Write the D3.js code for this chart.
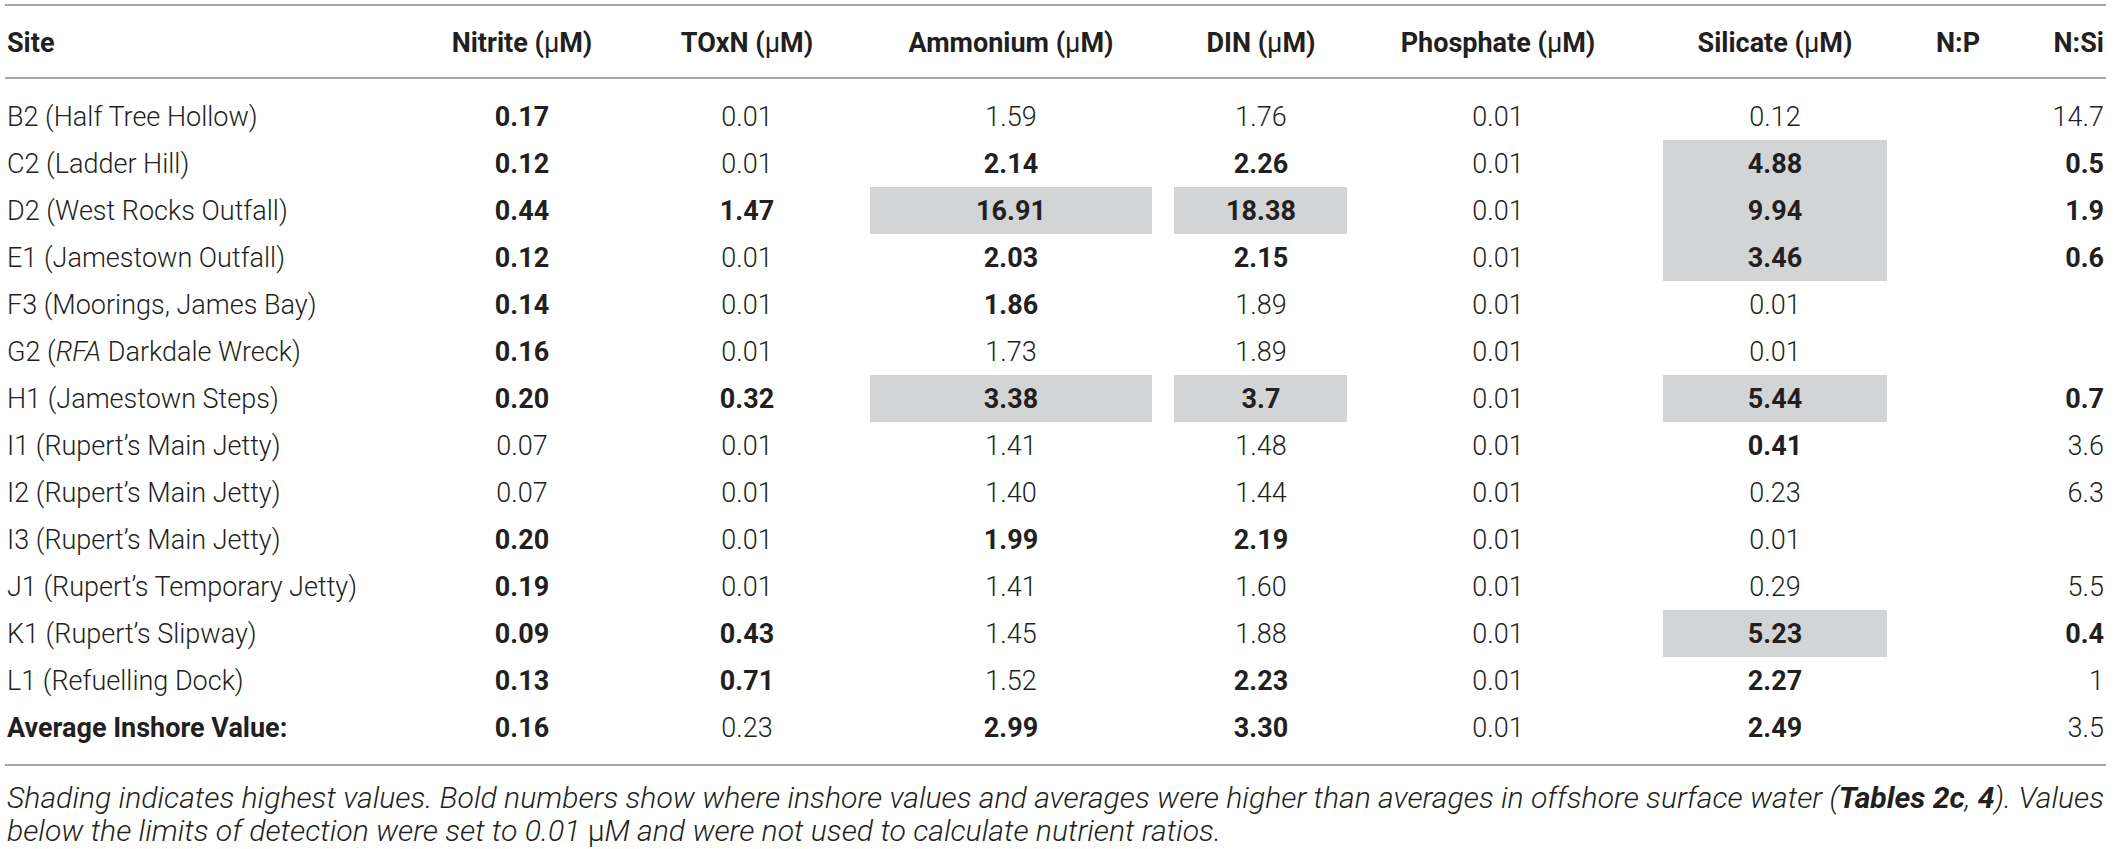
<!DOCTYPE html>
<html>
<head>
<meta charset="utf-8">
<script src="https://cdn.jsdelivr.net/npm/d3@7/dist/d3.min.js"></script>
<style>
  body { margin: 0; background: #fff; }
  text { font-family: Roboto, "Liberation Sans", Arial, sans-serif; fill: #231f20; }
</style>
</head>
<body>
<script>
// ---- table data ----
var sites = ["B2 (Half Tree Hollow)", "C2 (Ladder Hill)", "D2 (West Rocks Outfall)",
  "E1 (Jamestown Outfall)", "F3 (Moorings, James Bay)", "G2 (|RFA| Darkdale Wreck)",
  "H1 (Jamestown Steps)", "I1 (Rupert\u2019s Main Jetty)", "I2 (Rupert\u2019s Main Jetty)",
  "I3 (Rupert\u2019s Main Jetty)", "J1 (Rupert\u2019s Temporary Jetty)", "K1 (Rupert\u2019s Slipway)",
  "L1 (Refuelling Dock)", "Average Inshore Value:"];
var siteBold = [0,0,0,0,0,0,0,0,0,0,0,0,0,1];

var nitrite   = ["0.17","0.12","0.44","0.12","0.14","0.16","0.20","0.07","0.07","0.20","0.19","0.09","0.13","0.16"];
var toxn      = ["0.01","0.01","1.47","0.01","0.01","0.01","0.32","0.01","0.01","0.01","0.01","0.43","0.71","0.23"];
var ammonium  = ["1.59","2.14","16.91","2.03","1.86","1.73","3.38","1.41","1.40","1.99","1.41","1.45","1.52","2.99"];
var din       = ["1.76","2.26","18.38","2.15","1.89","1.89","3.7","1.48","1.44","2.19","1.60","1.88","2.23","3.30"];
var phosphate = ["0.01","0.01","0.01","0.01","0.01","0.01","0.01","0.01","0.01","0.01","0.01","0.01","0.01","0.01"];
var silicate  = ["0.12","4.88","9.94","3.46","0.01","0.01","5.44","0.41","0.23","0.01","0.29","5.23","2.27","2.49"];
var np        = ["","","","","","","","","","","","","",""];
var nsi       = ["14.7","0.5","1.9","0.6","","","0.7","3.6","6.3","","5.5","0.4","1","3.5"];

// bold = higher than offshore average
var nitriteBold   = [1,1,1,1,1,1,1,0,0,1,1,1,1,1];
var toxnBold      = [0,0,1,0,0,0,1,0,0,0,0,1,1,0];
var ammoniumBold  = [0,1,1,1,1,0,1,0,0,1,0,0,0,1];
var dinBold       = [0,1,1,1,0,0,1,0,0,1,0,0,1,1];
var phosphateBold = [0,0,0,0,0,0,0,0,0,0,0,0,0,0];
var silicateBold  = [0,1,1,1,0,0,1,1,0,0,0,1,1,1];
var npBold        = [0,0,0,0,0,0,0,0,0,0,0,0,0,0];
var nsiBold       = [0,1,1,1,0,0,1,0,0,0,0,1,0,0];

// shaded cells = highest values (row indices)
var ammoniumShade = [2, 6];
var dinShade      = [2, 6];
var silicateShade = [1, 2, 3, 6, 11];

var headers = ["Site", "Nitrite (|\u03bc|M)", "TOxN (|\u03bc|M)", "Ammonium (|\u03bc|M)", "DIN (|\u03bc|M)",
  "Phosphate (|\u03bc|M)", "Silicate (|\u03bc|M)", "N:P", "N:Si"];

// ---- layout ----
var W = 2118, H = 849;
var fontSize = 27;

var columns = [
  {values: sites,     bold: siteBold,      x: 7,    anchor: "start"},
  {values: nitrite,   bold: nitriteBold,   x: 522,  anchor: "middle"},
  {values: toxn,      bold: toxnBold,      x: 747,  anchor: "middle"},
  {values: ammonium,  bold: ammoniumBold,  x: 1011, anchor: "middle", shade: ammoniumShade, x0: 870,  x1: 1152},
  {values: din,       bold: dinBold,       x: 1261, anchor: "middle", shade: dinShade,      x0: 1174, x1: 1347},
  {values: phosphate, bold: phosphateBold, x: 1498, anchor: "middle"},
  {values: silicate,  bold: silicateBold,  x: 1775, anchor: "middle", shade: silicateShade, x0: 1663, x1: 1887},
  {values: np,        bold: npBold,        x: 1958, anchor: "middle"},
  {values: nsi,       bold: nsiBold,       x: 2104, anchor: "end"}
];

var y = d3.scaleBand()
  .domain(d3.range(sites.length))
  .range([93, 93 + 47 * sites.length]);

var svg = d3.select("body").append("svg")
  .attr("width", W)
  .attr("height", H);

// text with |...| parts toggled (italic for site names, plain weight for mu)
function addParts(sel, str, altAttr) {
  str.split("|").forEach(function(part, i) {
    var t = sel.append("tspan").text(part);
    if (i % 2 === 1) altAttr(t);
  });
}

// shading first, under the text
columns.forEach(function(col) {
  if (!col.shade) return;
  svg.selectAll(null)
    .data(col.shade)
    .enter()
    .append("rect")
    .attr("x", col.x0)
    .attr("y", function(d) { return y(d); })
    .attr("width", col.x1 - col.x0)
    .attr("height", y.bandwidth())
    .attr("fill", "#d3d4d6");
});

// rules
[5, 78, 765].forEach(function(ly) {
  svg.append("line")
    .attr("x1", 5).attr("x2", 2106)
    .attr("y1", ly).attr("y2", ly)
    .attr("stroke", "#a7a7a7")
    .attr("stroke-width", 2);
});

// header row
columns.forEach(function(col, ci) {
  var t = svg.append("text")
    .attr("x", col.x)
    .attr("y", 42)
    .attr("dy", "0.36em")
    .attr("text-anchor", col.anchor)
    .attr("font-size", fontSize)
    .attr("font-weight", 700);
  addParts(t, headers[ci], function(s) { s.attr("font-weight", 400); });
});

// body cells
columns.forEach(function(col) {
  svg.selectAll(null)
    .data(col.values)
    .enter()
    .append("text")
    .attr("x", col.x)
    .attr("y", function(d, i) { return y(i) + y.bandwidth() / 2; })
    .attr("dy", "0.36em")
    .attr("text-anchor", col.anchor)
    .attr("font-size", fontSize)
    .attr("font-weight", function(d, i) { return col.bold[i] ? 700 : 300; })
    .each(function(d) {
      addParts(d3.select(this), d, function(s) { s.attr("font-style", "italic"); });
    });
});

// footnote
var noteLines = [
  "Shading indicates highest values. Bold numbers show where inshore values and averages were higher than averages in offshore surface water (|Tables 2c|, |4|). Values",
  "below the limits of detection were set to 0.01 |\u03bc|M and were not used to calculate nutrient ratios."
];
var notes = noteLines.map(function(line, li) {
  var t = svg.append("text")
    .attr("x", 7)
    .attr("y", 797 + li * 33)
    .attr("dy", "0.36em")
    .attr("font-size", 26)
    .attr("font-style", "italic")
    .attr("font-weight", 300);
  addParts(t, line, function(s) {
    if (li === 0) s.attr("font-weight", 700);
    else s.attr("font-style", "normal");
  });
  return t;
});
// fit the first line to the table width
var w0 = notes[0].node().getComputedTextLength();
var fs = 26 * 2098 / w0;
notes.forEach(function(t) { t.attr("font-size", fs); });
</script>
</body>
</html>
